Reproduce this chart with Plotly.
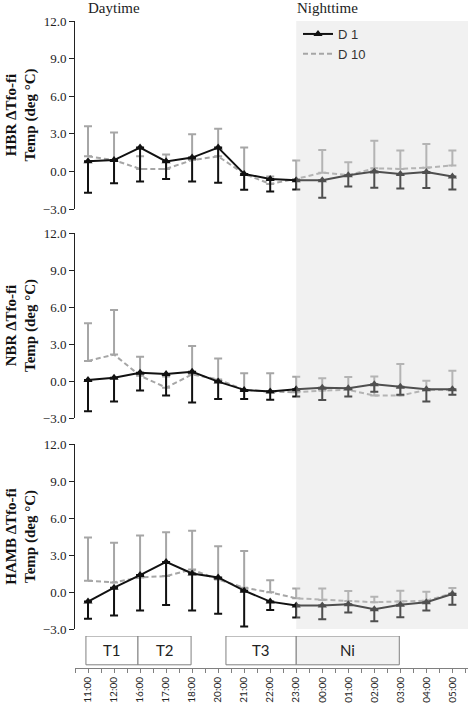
import plotly.graph_objects as go

times = ["11:00", "12:00", "16:00", "17:00", "18:00", "20:00", "21:00", "22:00",
         "23:00", "00:00", "01:00", "02:00", "03:00", "04:00", "05:00"]

# HBR panel
hbr_d1 = [0.8, 0.9, 1.9, 0.8, 1.1, 1.9, -0.2, -0.6, -0.7, -0.7, -0.3, 0.0, -0.2, -0.05, -0.4]
hbr_d1_err = [2.5, 1.85, 2.7, 1.4, 1.9, 2.8, 1.27, 1.0, 0.75, 1.4, 0.9, 1.3, 1.17, 1.27, 1.05]
hbr_d10 = [1.2, 0.9, 0.2, 0.2, 0.9, 1.2, -0.2, -1.0, -0.6, -0.1, -0.3, 0.25, 0.2, 0.3, 0.47]
hbr_d10_err = [2.4, 2.2, 1.0, 1.14, 2.07, 2.2, 2.1, 0.6, 1.47, 1.8, 1.04, 2.2, 1.46, 1.88, 1.2]

# NBR panel
nbr_d1 = [0.08, 0.27, 0.67, 0.56, 0.75, -0.05, -0.72, -0.86, -0.67, -0.54, -0.59, -0.27, -0.46, -0.67, -0.67]
nbr_d1_err = [2.54, 1.93, 1.45, 1.74, 2.49, 1.4, 0.73, 0.67, 0.59, 1.0, 0.67, 0.6, 0.66, 1.0, 0.45]
nbr_d10 = [1.63, 2.14, 0.43, -0.54, 0.54, 0.13, -0.72, -0.86, -0.91, -0.78, -0.72, -1.18, -1.18, -0.72, -0.72]
nbr_d10_err = [3.06, 3.62, 1.53, 0.9, 2.3, 1.69, 1.34, 1.48, 1.25, 1.0, 1.05, 1.55, 2.55, 0.75, 1.55]

# HAMB panel
hamb_d1 = [-0.78, 0.35, 1.37, 2.44, 1.5, 1.18, 0.11, -0.78, -1.1, -1.1, -0.99, -1.39, -1.04, -0.83, -0.16]
hamb_d1_err = [1.39, 2.25, 2.87, 3.49, 3.0, 2.95, 2.9, 0.67, 0.96, 1.1, 0.67, 0.99, 1.0, 0.67, 0.88]
hamb_d10 = [0.91, 0.78, 1.18, 1.29, 1.82, 1.02, 0.35, -0.03, -0.51, -0.64, -0.72, -0.83, -0.78, -0.7, -0.11]
hamb_d10_err = [3.51, 3.21, 3.4, 3.56, 3.14, 2.68, 2.97, 0.99, 0.8, 0.93, 0.8, 0.45, 0.89, 0.73, 0.43]

panel_titles = ["<b>HBR ΔTfo-fi<br>Temp (deg °C)</b>", "<b>NBR ΔTfo-fi<br>Temp (deg °C)</b>",
                "<b>HAMB ΔTfo-fi<br>Temp (deg °C)</b>"]
y_ticks = [-3.0, 0.0, 3.0, 6.0, 9.0, 12.0]

# period boxes: label, start, end (category positions)
periods = [("T1", -0.08, 1.92, "white"), ("T2", 1.92, 3.96, "white"),
           ("T3", 5.3, 8.0, "white"), ("Ni", 8.0, 11.96, "#f2f2f2")]

panels = [(hbr_d1, hbr_d1_err, hbr_d10, hbr_d10_err),
          (nbr_d1, nbr_d1_err, nbr_d10, nbr_d10_err),
          (hamb_d1, hamb_d1_err, hamb_d10, hamb_d10_err)]

L, R, T, B = 75, 6, 21, 37
W_PLOT = 474 - L - R
H = 705 - T - B

def dom(top_px, bot_px):
    return [(705 - B - bot_px) / H, (705 - B - top_px) / H]

domains = [dom(21, 209), dom(233, 418), dom(444, 629)]

SERIF = "Liberation Serif"
SANS = "Liberation Sans"

fig = go.Figure()
xr = [-0.5, 14.6]

for i, (d1, d1e, d10, d10e) in enumerate(panels):
    n = i + 1
    xa = "x" if n == 1 else f"x{n}"
    ya = "y" if n == 1 else f"y{n}"
    fig.add_trace(go.Scatter(
        x=list(range(len(times))), y=d10, xaxis=xa, yaxis=ya, mode="lines",
        name="D 10", legendrank=2, showlegend=(n == 1),
        line=dict(color="#a6a6a6", width=2, dash="5px,3px"),
        error_y=dict(type="data", symmetric=False, array=d10e,
                     arrayminus=[0] * len(d10e), color="#a6a6a6",
                     thickness=2, width=4)))
    fig.add_trace(go.Scatter(
        x=list(range(len(times))), y=d1, xaxis=xa, yaxis=ya, mode="lines+markers",
        name="D 1", legendrank=1, showlegend=(n == 1),
        line=dict(color="#111111", width=2),
        marker=dict(symbol="triangle-up", size=8, color="#111111"),
        error_y=dict(type="data", symmetric=False, array=[0] * len(d1e),
                     arrayminus=d1e, color="#111111", thickness=2, width=4)))

    fig.layout[f"xaxis{'' if n == 1 else n}"] = dict(
        range=xr, domain=[0, 1], anchor=ya, showline=False, showticklabels=False,
        ticks="", showgrid=False, zeroline=False, matches="x4", automargin=False)
    fig.layout[f"yaxis{'' if n == 1 else n}"] = dict(
        range=[-3, 12], domain=domains[i], anchor=xa, showline=True,
        linecolor="#222222", linewidth=1, ticks="outside", ticklen=5,
        tickcolor="#222222", tickvals=y_ticks, tickformat=".1f",
        tickfont=dict(family=SERIF, size=13, color="#222222"),
        showgrid=False, zeroline=False, automargin=False,
        title=dict(text=panel_titles[i], standoff=3,
                   font=dict(family=SERIF, size=15, color="#111111")))

# strip axis with time labels
fig.add_trace(go.Scatter(x=[0, 14], y=[None, None], xaxis="x4", yaxis="y4",
                         mode="markers", showlegend=False, hoverinfo="skip"))
fig.layout["xaxis4"] = dict(
    range=xr, domain=[0, 1], anchor="y4", showline=True, linecolor="#808080",
    linewidth=1, ticks="outside", ticklen=4, tickcolor="#808080",
    tickmode="array", tickvals=list(range(len(times))), ticktext=times,
    tickangle=-90, tickfont=dict(family="Lato", size=10, color="#222222"),
    minor=dict(tickmode="array", tickvals=[k - 0.5 for k in range(16)],
               ticks="outside", ticklen=4, tickcolor="#808080"),
    showgrid=False, zeroline=False, automargin=False)
fig.layout["yaxis4"] = dict(range=[0, 1], domain=[0, 32 / H], anchor="x4",
                            visible=False)

shapes = []
annotations = []
for lab, a, b, fill in periods:
    shapes.append(dict(type="rect", xref="x4", yref="y4", x0=a, x1=b, y0=0.1, y1=1.0,
                       line=dict(color="#808080", width=1), fillcolor=fill, layer="below"))
    annotations.append(dict(text=lab, x=(a + b) / 2, y=0.55, xref="x4", yref="y4",
                            showarrow=False,
                            font=dict(family="Lato", size=15, color="#222222")))

# night shading overlay
shapes.append(dict(type="rect", xref="x", yref="paper", x0=8.0, x1=14.6,
                   y0=domains[2][0], y1=1.0, line=dict(width=0),
                   fillcolor="rgba(212,212,212,0.32)", layer="above"))

for txt, px in [("Daytime", 86), ("Nighttime", 295)]:
    annotations.append(dict(text=txt, x=(px - L) / W_PLOT, y=(705 - B - 8) / H,
                            xref="paper", yref="paper", xanchor="left",
                            yanchor="middle", showarrow=False,
                            font=dict(family=SERIF, size=15, color="#222222")))

fig.update_layout(
    width=474, height=705, margin=dict(l=L, r=R, t=T, b=B, autoexpand=False),
    paper_bgcolor="white", plot_bgcolor="rgba(0,0,0,0)",
    shapes=shapes, annotations=annotations,
    legend=dict(x=(298 - L) / W_PLOT, y=(705 - B - 19) / H, xanchor="left", yanchor="top",
                bgcolor="rgba(0,0,0,0)", font=dict(family=SANS, size=13, color="#333333"),
                tracegroupgap=2, itemwidth=30),
    showlegend=True,
)

fig.write_html("out.html", config={"displayModeBar": False},
               post_script="document.body.style.margin='0';document.body.style.overflow='hidden';")
